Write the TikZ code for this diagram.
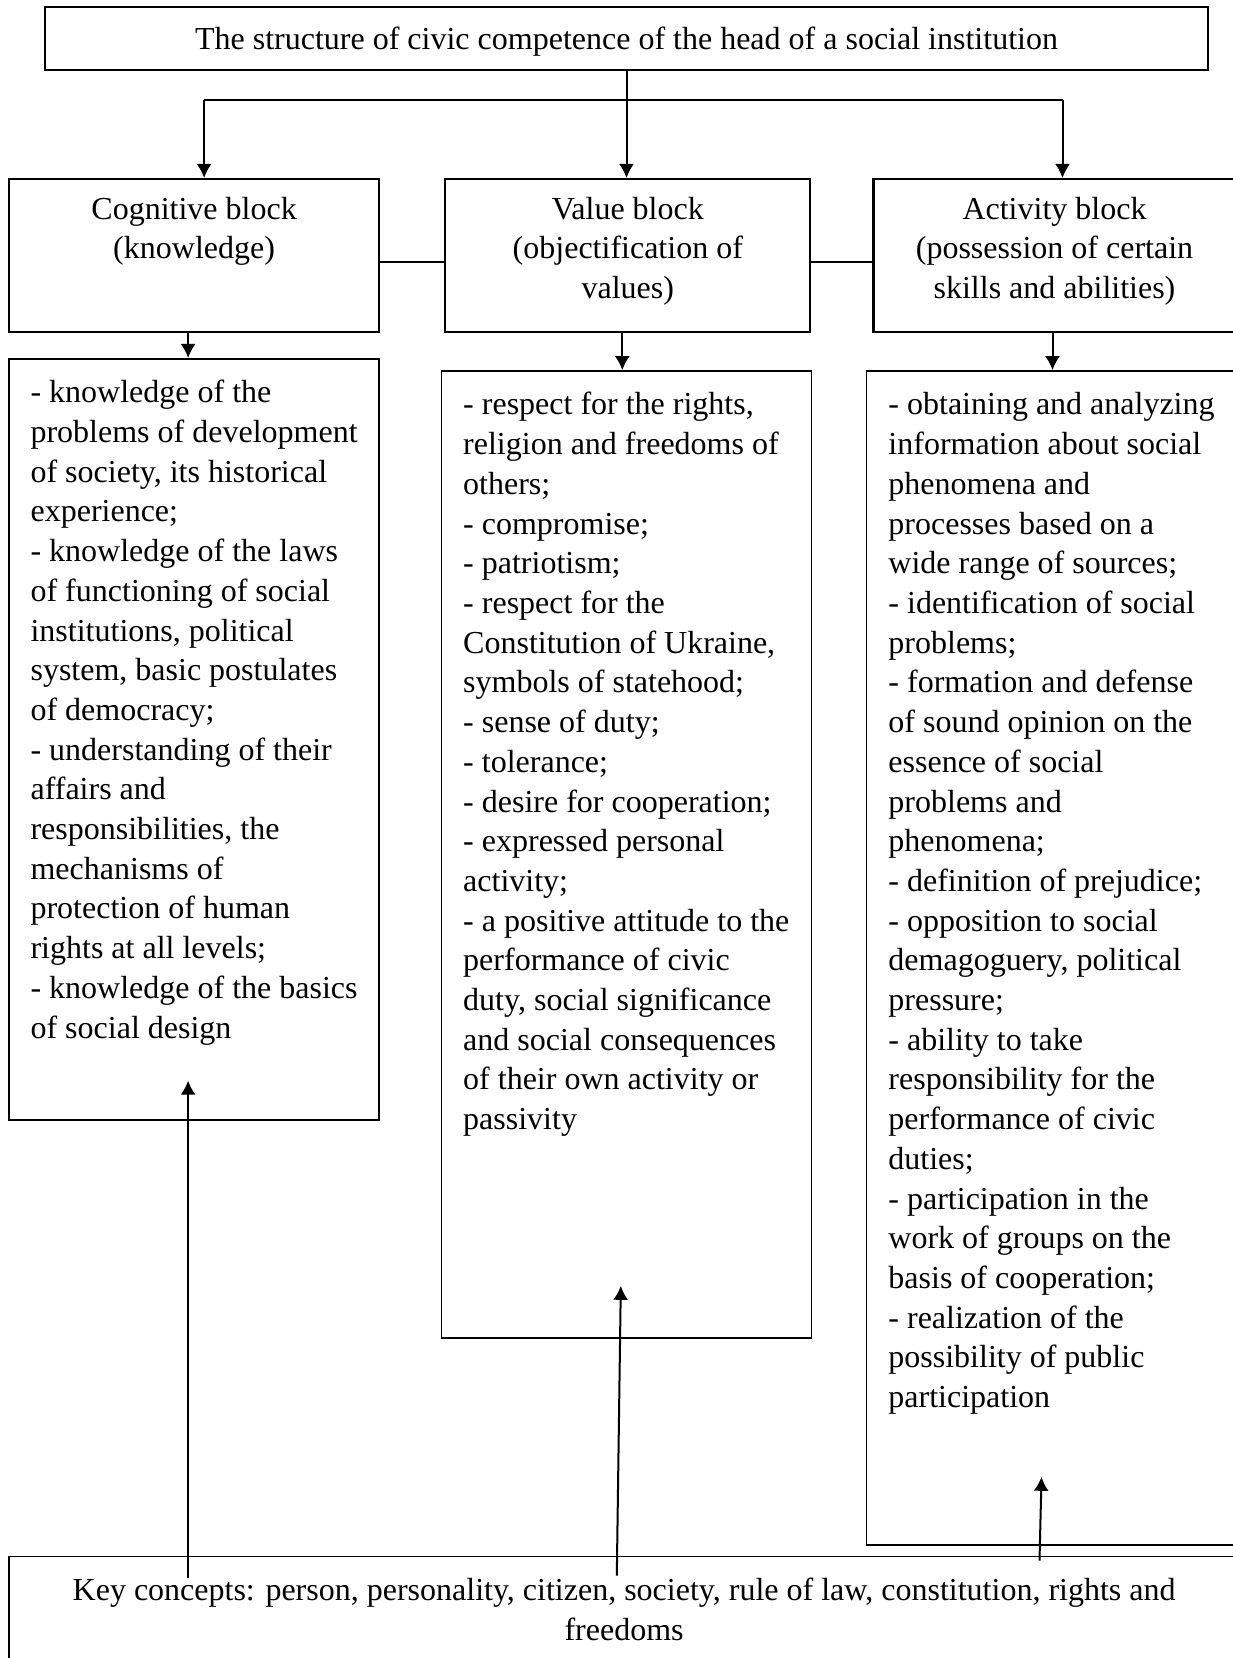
\documentclass[tikz,border=0pt]{standalone}
\usepackage{fontspec}
\setmainfont{Liberation Serif}
\usetikzlibrary{arrows.meta,positioning,calc}
\newcommand{\linesof}[2]{\begin{tabular}[t]{@{}#1@{}}#2\end{tabular}}
\tikzset{txt/.style={
        font=\fontsize{16}{19.85}\selectfont
    },
    a/.style={
        draw,
        line width=1pt,
        -{Latex[length=7pt,width=7.5pt]}
    },
    link/.style={
        draw,
        line width=1pt
    }}

\begin{document}
\begin{tikzpicture}
    [
    head/.style={
        rectangle,
        draw,
        line width=1pt,
        txt,
        text height=11pt,
        text depth=0.3pt,
        minimum width=581.5pt,
        minimum height=31.5pt
    },
    block/.style={
        rectangle,
        draw,
        line width=1.1pt,
        txt,
        inner ysep=7pt,
        text height=13pt,
        text depth=49.5pt
    },
    list/.style={
        rectangle,
        draw,
        line width=0.8pt,
        txt,
        minimum width=185pt,
        inner ysep=8pt,
        text height=14pt
    }
    ]
    \useasboundingbox (0,0) rectangle (616pt,-829pt);
    \node (title)[head] at (313.25pt,-19.25pt) {The structure of civic competence of the head of a social institution};
    \node (cog)[block,minimum width=185pt,below right=53.5pt and -18pt of title.south west] {\linesof{c}{Cognitive block\\(knowledge)}};
    \node (val)[block,minimum width=182.5pt,right=32pt of cog] {\linesof{c}{Value block\\(objectification of\\values)}};
    \node (act)[block,minimum width=181pt,right=30.5pt of val] {\linesof{c}{Activity block\\(possession of certain\\skills and abilities)}};
    \node (coglist)[list,text depth=350.5pt,below=12.4pt of cog] {\linesof{l}{- knowledge of the\\
        problems of development\\
        of society, its historical\\
        experience;\\
        - knowledge of the laws\\
        of functioning of social\\
        institutions, political\\
        system, basic postulates\\
        of democracy;\\
        - understanding of their\\
        affairs and\\
        responsibilities, the\\
        mechanisms of\\
        protection of human\\
        rights at all levels;\\
        - knowledge of the basics\\
        of social design}};
    \node (vallist)[list,text depth=453.5pt,below=18.5pt of val,xshift=-0.75pt] {\linesof{l}{- respect for the rights,\\
        religion and freedoms of\\
        others;\\
        - compromise;\\
        - patriotism;\\
        - respect for the\\
        Constitution of Ukraine,\\
        symbols of statehood;\\
        - sense of duty;\\
        - tolerance;\\
        - desire for cooperation;\\
        - expressed personal\\
        activity;\\
        - a positive attitude to the\\
        performance of civic\\
        duty, social significance\\
        and social consequences\\
        of their own activity or\\
        passivity}};
    \node (actlist)[list,text depth=557pt,below=18.5pt of act,xshift=-1.5pt] {\linesof{l}{- obtaining and analyzing\\
        information about social\\
        phenomena and\\
        processes based on a\\
        wide range of sources;\\
        - identification of social\\
        problems;\\
        - formation and defense\\
        of sound opinion on the\\
        essence of social\\
        problems and\\
        phenomena;\\
        - definition of prejudice;\\
        - opposition to social\\
        demagoguery, political\\
        pressure;\\
        - ability to take\\
        responsibility for the\\
        performance of civic\\
        duties;\\
        - participation in the\\
        work of groups on the\\
        basis of cooperation;\\
        - realization of the\\
        possibility of public\\
        participation}};
    \node (keyc)[list,minimum width=615pt,text depth=22pt,below right=217.5pt and 0pt of coglist.south west] {\linesof{c}{Key concepts: person, personality, citizen, society, rule of law, constitution, rights and\\freedoms}};

    \coordinate (hub) at ($(title.south)+(0,-14.5pt)$);
    \draw[a] (title.south) -- (title.south |- val.north);
    \draw[link] ([xshift=5pt]cog.north |- hub) -- ([xshift=4pt]act.north |- hub);
    \draw[a] ([xshift=5pt]cog.north |- hub) -- ([xshift=5pt]cog.north);
    \draw[a] ([xshift=4pt]act.north |- hub) -- ([xshift=4pt]act.north);
    \draw[link] ([yshift=-3pt]cog.east) -- ([yshift=-3pt]val.west);
    \draw[link] ([yshift=-3pt]val.east) -- ([yshift=-3pt]act.west);
    \draw[a] ([xshift=-3pt]cog.south) -- ([xshift=-3pt]cog.south |- coglist.north);
    \draw[a] ([xshift=-2.75pt]val.south) -- ([xshift=-2.75pt]val.south |- vallist.north);
    \draw[a] ([xshift=-1pt]act.south) -- ([xshift=-1pt]act.south |- actlist.north);
    \draw[a] ($(keyc.north -| coglist.south)+(-3pt,-11pt)$) -- ($(coglist.south)+(-3pt,20pt)$);
    \draw[a] ($(keyc.north -| vallist.south)+(-4.75pt,-10pt)$) -- ($(vallist.south)+(-2.75pt,26.5pt)$);
    \draw[a] ($(keyc.north -| actlist.south)+(-6pt,-2.5pt)$) -- ($(actlist.south)+(-5pt,34.5pt)$);
\end{tikzpicture}
\end{document}
